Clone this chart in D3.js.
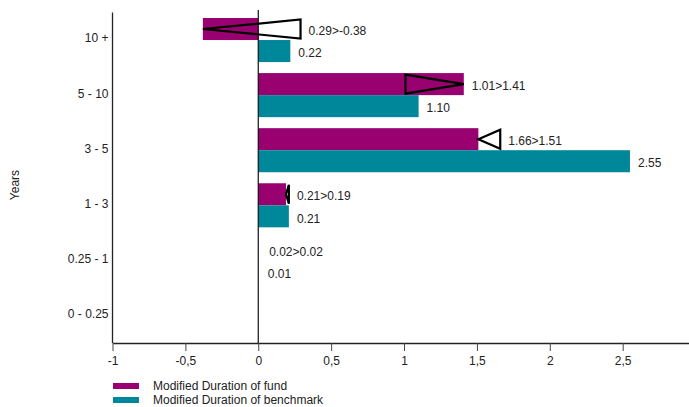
<!DOCTYPE html>
<html><head><meta charset="utf-8">
<script src="https://cdn.jsdelivr.net/npm/d3@7"></script>
<style>body{margin:0;background:#fff}svg{display:block}text{font-family:"Liberation Sans",Arial,sans-serif;fill:#222}</style>
</head><body><svg id="c" width="689" height="407"></svg>
<script>
const categories = ["10 +", "5 - 10", "3 - 5", "1 - 3", "0.25 - 1", "0 - 0.25"];
const fundValues = [-0.38, 1.41, 1.51, 0.19, 0.02, 0];
const fundPrevious = [0.29, 1.01, 1.66, 0.21, 0.02, null];
const benchmarkValues = [0.22, 1.10, 2.55, 0.21, 0.01, 0];
const fundLabels = ["0.29>-0.38", "1.01>1.41", "1.66>1.51", "0.21>0.19", "0.02>0.02", null];
const benchLabels = ["0.22", "1.10", "2.55", "0.21", "0.01", null];
const xTicks = [-1, -0.5, 0, 0.5, 1, 1.5, 2, 2.5];
const seriesNames = ["Modified Duration of fund", "Modified Duration of benchmark"];
const colors = ["#990070", "#00879a"];

(function () {
const svg = d3.select("#c");
const mLeft = 112.5, mRight = 689, mTop = 12.5, mBottom = 343;
const minBarPx = 3.5;
const x = d3.scaleLinear().domain([-1, 2.955]).range([mLeft, mRight]);
const y = d3.scaleBand().domain(categories).range([mTop, mBottom]).paddingInner(0.2).paddingOuter(0.1);

const bh = y.bandwidth() / 2;
const g = svg.append("g");

categories.forEach((c, i) => {
  const y0 = y(c);
  const fv = fundValues[i], bv = benchmarkValues[i];
  const fw = Math.abs(x(fv) - x(0)), bw = Math.abs(x(bv) - x(0));
  if (fw > minBarPx) g.append("rect").attr("x", x(Math.min(0, fv))).attr("y", y0)
    .attr("width", fw).attr("height", bh).attr("fill", colors[0]);
  if (bw > minBarPx) g.append("rect").attr("x", x(Math.min(0, bv))).attr("y", y0 + bh)
    .attr("width", bw).attr("height", bh).attr("fill", colors[1]);
});

const xa = svg.append("g").attr("transform", `translate(0,${mBottom})`)
  .call(d3.axisBottom(x).tickValues(xTicks).tickSize(8).tickSizeOuter(0)
    .tickFormat(d => String(d).replace(".", ",")));
xa.select(".domain").attr("stroke", "#222").attr("stroke-width", 1.3);
xa.selectAll(".tick line").attr("stroke", "#444").attr("stroke-width", 1);
xa.selectAll(".tick text").attr("font-size", 12).attr("dy", "0.95em").attr("fill", "#222")
  .style("font-family", '"Liberation Sans",Arial,sans-serif');

const ya = svg.append("g").attr("transform", `translate(${mLeft},0)`)
  .call(d3.axisLeft(y).tickSize(0).tickPadding(4));
ya.select(".domain").attr("stroke", "#222").attr("stroke-width", 1.3).attr("d", `M0,${mTop}V${mBottom}`);
ya.selectAll(".tick text").attr("font-size", 12).attr("fill", "#222").attr("dy", "0.2em")
  .style("font-family", '"Liberation Sans",Arial,sans-serif');

svg.append("line").attr("x1", x(0)).attr("x2", x(0)).attr("y1", 10).attr("y2", mBottom)
  .attr("stroke", "#111").attr("stroke-width", 1.2);

categories.forEach((c, i) => {
  const y0 = y(c);
  const cy = y0 + bh / 2;
  const pv = fundPrevious[i], fv = fundValues[i];
  if (pv !== null && pv !== fv) {
    const h = bh / 2 - 1.5;
    svg.append("path")
      .attr("d", `M${x(pv)},${cy - h}L${x(pv)},${cy + h}L${x(fv)},${cy}Z`)
      .attr("fill", "none").attr("stroke", "#000").attr("stroke-width", 2.2).attr("stroke-linejoin", "miter");
  }
  if (fundLabels[i]) {
    const xm = Math.max(0, fv, pv === null ? 0 : pv);
    svg.append("text").attr("x", x(xm) + 8).attr("y", cy + 2).attr("dy", "0.35em")
      .attr("font-size", 12).text(fundLabels[i]);
  }
  if (benchLabels[i]) {
    const bv = benchmarkValues[i];
    svg.append("text").attr("x", x(Math.max(0, bv)) + 8).attr("y", y0 + bh * 1.5 + 2).attr("dy", "0.35em")
      .attr("font-size", 12).text(benchLabels[i]);
  }
});

svg.append("text").attr("transform", "translate(19,185) rotate(-90)").attr("text-anchor", "middle")
  .attr("font-size", 12).text("Years");

seriesNames.forEach((s, i) => {
  const ly = 386 + i * 14;
  svg.append("rect").attr("x", 113).attr("y", ly - 3).attr("width", 26).attr("height", 6).attr("fill", colors[i]);
  svg.append("text").attr("x", 153).attr("y", ly).attr("dy", "0.35em").attr("font-size", 12).text(s);
});
})();
</script></body></html>
